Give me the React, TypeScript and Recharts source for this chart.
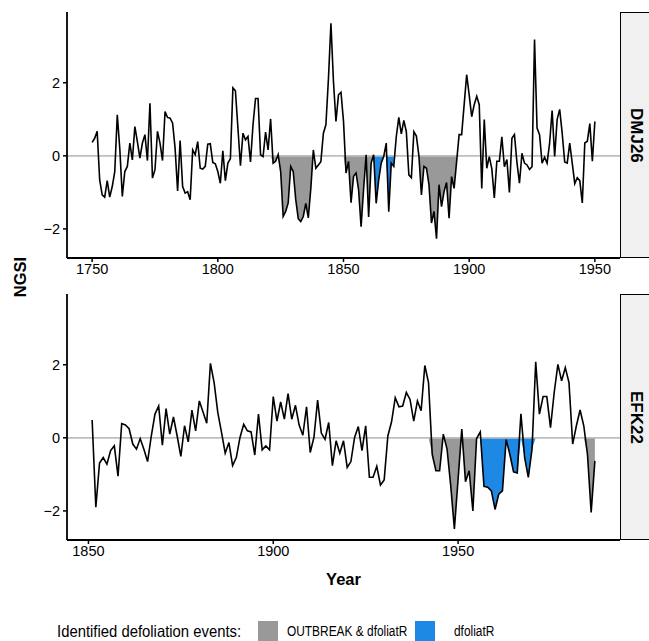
import React from 'react';
import { ComposedChart, Line, Area, XAxis, YAxis, ReferenceLine } from 'recharts';

// DMJ26 site, one value per year from 1750
const dmjStart = 1750;
const dmjValues = [
  0.37, 0.48, 0.67, -0.66, -1.07, -1.13, -0.68, -1.13, -0.84, -0.43, // 1750
  1.12, 0.2, -1.11, -0.43, -0.29, 0.35, -0.11, 0.8, 0.39, -0.06, // 1760
  0.35, 0.58, -0.13, 1.44, -0.61, -0.38, 0.67, 0.35, -0.13, 1.21, // 1770
  1.05, 1.03, 0.9, 0.21, -0.96, 0.42, -0.84, -1.02, -0.98, -1.2, // 1780
  0.16, 0.03, 0.39, -0.34, -0.36, -0.29, 0.32, 0.33, -0.18, -0.22, // 1790
  -0.43, -0.75, 0.14, -0.68, -0.2, -0.08, 1.86, 1.78, 0.76, -0.27, // 1800
  0.62, 0.44, 0.53, -0.17, 0.85, 1.57, 1.57, 0.03, -0.02, 0.65, // 1810
  0.16, 1.01, -0.2, -0.15, 0.03, -0.43, -1.66, -1.52, -1.29, -0.29, // 1820
  -0.43, -1.2, -1.72, -1.8, -1.66, -1.3, -1.7, -0.89, 0.16, -0.34, // 1830
  -0.25, -0.16, 0.62, 0.85, 2.1, 3.63, 2.04, 0.94, 1.67, 1.74, // 1840
  0.95, -0.47, -0.15, -1.28, -0.56, -0.47, -0.93, -1.94, -0.9, 0.03, // 1850
  -1.67, -0.2, 0.03, -1.3, -0.66, -0.2, -0.02, 0.35, -1.53, -0.2, // 1860
  -0.29, 0.53, 1.05, 0.6, 0.97, 0.66, -0.52, -0.6, 0.66, 0.54, // 1870
  0.0, -1.07, -0.29, -0.34, -0.79, -1.84, -1.52, -2.27, -0.79, -1.39, // 1880
  -0.98, -0.73, -1.71, -0.57, -0.89, -0.16, 0.58, 0.58, 1.4, 2.22, // 1890
  1.67, 1.07, 1.4, 1.63, 1.4, -0.89, 0.99, -0.34, -0.02, -0.35, // 1900
  -1.15, -0.15, -0.15, 0.52, -0.3, -0.1, -1.0, 0.48, 0.58, -0.18, // 1910
  -0.75, 0.07, -0.2, -0.25, -0.37, -0.3, 3.18, 0.76, 0.58, -0.2, // 1920
  -0.04, -0.2, 0.35, 1.24, -0.02, 1.0, 1.27, 0.62, -0.17, -0.2, // 1930
  0.35, -0.2, -0.76, -0.6, -0.68, -1.29, 0.35, 0.4, 0.88, -0.15, // 1940
  0.94, // 1950
];
const dmjOutbreak = [[1821, 1838], [1850, 1862], [1880, 1895]];
const dmjDefol = [[1862, 1870]];

// EFK22 site, one value per year from 1851
const efkStart = 1851;
const efkValues = [
  0.49, -1.9, -0.69, -0.54, -0.72, -0.35, -0.22, -1.05, 0.39, // 1851
  0.35, 0.25, -0.17, -0.31, -0.02, -0.31, -0.65, 0.05, 0.65, 0.87, // 1860
  -0.2, 0.8, 0.1, 0.57, 0.05, -0.51, 0.33, -0.11, 0.76, 0.19, // 1870
  1.01, 0.71, 0.4, 2.04, 1.51, 0.69, 0.15, -0.42, -0.13, -0.76, // 1880
  -0.54, 0.01, 0.37, 0.19, 0.16, -0.47, 0.65, -0.33, -0.22, -0.33, // 1890
  1.13, 0.46, 0.98, 0.51, 1.21, 0.51, 0.89, 0.35, 0.07, 0.85, // 1900
  -0.4, 0.01, 1.03, 0.13, -0.04, 0.42, -0.76, -0.08, -0.42, -0.08, // 1910
  -0.81, -0.65, 0.01, 0.31, -0.35, 0.33, -1.08, -1.08, -0.78, -1.29, // 1920
  -1.15, 0.05, 0.44, 1.1, 0.85, 0.87, 1.24, 1.05, 0.46, 1.01, // 1930
  0.74, 1.98, 1.51, -0.45, -0.9, -0.9, 0.1, -0.3, -1.3, -2.49, // 1940
  -1.13, 0.24, -1.2, -0.9, -2.0, -0.02, 0.16, -1.33, -1.35, -1.45, // 1950
  -1.96, -1.54, -1.45, -0.05, -0.45, -0.93, -0.96, 0.66, -0.54, -1.08, // 1960
  -0.31, 2.08, 0.65, 1.13, 1.13, 0.28, 1.24, 2.01, 1.56, 1.92, // 1970
  1.51, -0.17, 0.33, 0.76, 0.33, -0.45, -2.04, -0.63, // 1980
];
const efkOutbreak = [[1942, 1956], [1984, 1987]];
const efkDefol = [[1956, 1971]];

const yTicks = [-2, 0, 2];
const FONT = '"Liberation Sans", Arial, Helvetica, sans-serif';
const GREY = '#999999';
const BLUE = '#1e88e5';

function inRange(year: number, ranges: number[][]) {
  return ranges.some(([a, b]) => year >= a && year <= b);
}

function buildRows(start: number, values: number[], outbreak: number[][], defol: number[][]) {
  return values.map((v, i) => {
    const year = start + i;
    return {
      year,
      v,
      outbreak: inRange(year, outbreak) ? Math.min(v, 0) : null,
      defol: inRange(year, defol) ? Math.min(v, 0) : null,
    };
  });
}

const minus = (n: number) => String(n).replace('-', '\u2212');

function Panel({ rows, domain, ticks }: { rows: any[]; domain: number[]; ticks: number[] }) {
  const tickStyle = { fontSize: 14.5, fill: '#000', fontFamily: FONT };
  return (
    <ComposedChart width={621} height={285} data={rows} margin={{ top: 12, right: 1, left: 0, bottom: 0 }}>
      <XAxis
        type="number"
        dataKey="year"
        domain={domain}
        ticks={ticks}
        allowDataOverflow
        height={27}
        tickSize={4}
        tickMargin={2}
        tick={tickStyle}
        axisLine={{ stroke: '#000', strokeWidth: 1.8 }}
        tickLine={{ stroke: '#000', strokeWidth: 1.5 }}
      />
      <YAxis
        type="number"
        domain={[-2.796, 3.936]}
        ticks={yTicks}
        allowDataOverflow
        width={67}
        tickSize={4}
        tickMargin={3}
        tick={tickStyle}
        tickFormatter={minus}
        axisLine={{ stroke: '#000', strokeWidth: 1.8 }}
        tickLine={{ stroke: '#000', strokeWidth: 1.5 }}
      />
      <ReferenceLine y={0} stroke="#bebebe" strokeWidth={1.6} />
      <Area
        type="linear"
        dataKey="outbreak"
        baseValue={0}
        fill={GREY}
        fillOpacity={1}
        stroke="none"
        connectNulls={false}
        isAnimationActive={false}
        activeDot={false}
      />
      <Area
        type="linear"
        dataKey="defol"
        baseValue={0}
        fill={BLUE}
        fillOpacity={1}
        stroke="none"
        connectNulls={false}
        isAnimationActive={false}
        activeDot={false}
      />
      <Line
        type="linear"
        dataKey="v"
        stroke="#000"
        strokeWidth={1.6}
        dot={false}
        activeDot={false}
        isAnimationActive={false}
      />
    </ComposedChart>
  );
}

function Strip({ top, label }: { top: number; label: string }) {
  return (
    <div
      style={{
        position: 'absolute',
        left: 620,
        top,
        width: 34,
        height: 246,
        boxSizing: 'border-box',
        background: '#f0f0f0',
        border: '1.4px solid #000',
        display: 'flex',
        alignItems: 'center',
        justifyContent: 'center',
      }}
    >
      <span style={{ writingMode: 'vertical-rl', fontWeight: 'bold', fontSize: 17, fontFamily: FONT, marginRight: 2 }}>
        {label}
      </span>
    </div>
  );
}

// legend text looks a bit condensed in the original
const legendText = {
  position: 'absolute' as const,
  top: 621,
  height: 20,
  lineHeight: '20px',
  fontSize: 14,
  whiteSpace: 'nowrap' as const,
  transform: 'scaleX(0.85)',
  transformOrigin: 'left center',
};

export default function App() {
  const dmjRows = buildRows(dmjStart, dmjValues, dmjOutbreak, dmjDefol);
  const efkRows = buildRows(efkStart, efkValues, efkOutbreak, efkDefol);

  return (
    <div
      style={{
        position: 'absolute',
        left: 0,
        top: 0,
        width: 649,
        height: 641,
        overflow: 'hidden',
        background: '#fff',
        fontFamily: FONT,
        color: '#000',
      }}
    >
      <div style={{ position: 'absolute', left: 0, top: 0 }}>
        <Panel rows={dmjRows} domain={[1740, 1960]} ticks={[1750, 1800, 1850, 1900, 1950]} />
      </div>
      <Strip top={12} label="DMJ26" />

      <div style={{ position: 'absolute', left: 0, top: 282 }}>
        <Panel rows={efkRows} domain={[1844.2, 1993.8]} ticks={[1850, 1900, 1950]} />
      </div>
      <Strip top={294} label="EFK22" />

      <div
        style={{
          position: 'absolute',
          left: 20,
          top: 277,
          transform: 'translate(-50%, -50%) rotate(-90deg)',
          fontWeight: 'bold',
          fontSize: 16.5,
          whiteSpace: 'nowrap',
        }}
      >
        NGSI
      </div>
      <div
        style={{
          position: 'absolute',
          left: 343.5,
          top: 579,
          transform: 'translate(-50%, -50%)',
          fontWeight: 'bold',
          fontSize: 16.5,
        }}
      >
        Year
      </div>

      <div style={{ ...legendText, left: 57, fontSize: 16.5, transform: 'scaleX(0.9)' }}>
        Identified defoliation events:
      </div>
      <div style={{ position: 'absolute', left: 258, top: 621, width: 20, height: 20, background: GREY }} />
      <div style={{ ...legendText, left: 287 }}>OUTBREAK &amp; dfoliatR</div>
      <div style={{ position: 'absolute', left: 415, top: 621, width: 20, height: 20, background: BLUE }} />
      <div style={{ ...legendText, left: 454 }}>dfoliatR</div>
    </div>
  );
}
